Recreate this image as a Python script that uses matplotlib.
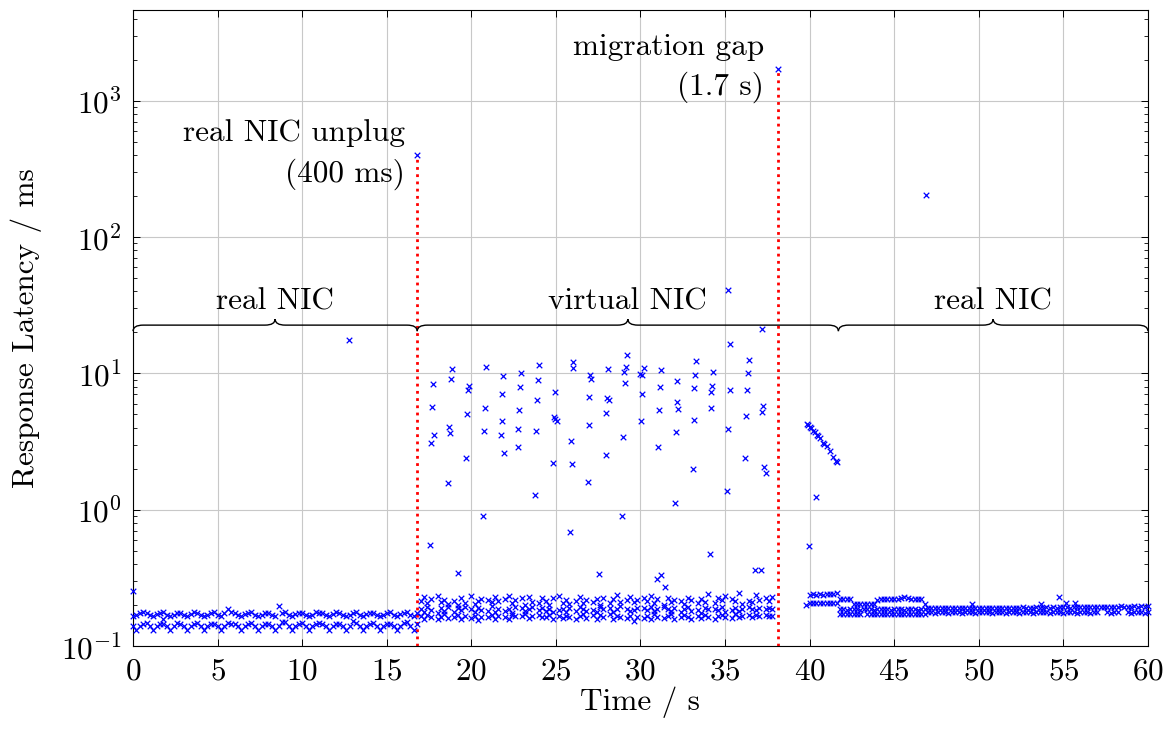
import numpy as np
import matplotlib
matplotlib.use("Agg")
import matplotlib.pyplot as plt
from matplotlib.path import Path
from matplotlib.patches import PathPatch
from matplotlib.transforms import blended_transform_factory
from matplotlib.ticker import LogLocator, NullFormatter, MultipleLocator

nan = np.nan

# ---- data -------------------------------------------------------------
# phase 1: real NIC, pings sampled every 0.2 s from t = 0.0
seg1_t0, seg1_dt = 0.0, 0.2
seg1_low = [
    0.139, 0.131, 0.140, 0.146, 0.147, 0.140, 0.132, 0.139, 0.146, 0.145,
    0.140, 0.131, 0.140, 0.147, 0.146, 0.139, 0.132, 0.140, 0.146, 0.147,
    0.140, 0.131, 0.139, 0.146, 0.145, 0.140, 0.132, 0.140, 0.147, 0.146,
    0.146, 0.140, 0.131, 0.139, 0.146, 0.147, 0.140, 0.132, 0.140, 0.146,
    0.145, 0.139, 0.131, 0.140, 0.151, 0.150, 0.140, 0.132, 0.139, 0.146,
    0.147, 0.140, 0.131, 0.140, 0.146, 0.147, 0.146, 0.140, 0.132, 0.139,
    0.146, 0.145, 0.140, 0.131, 0.140, 0.152, 0.147, 0.139, 0.132, 0.140,
    0.146, 0.147, 0.140, 0.131, 0.139, 0.146, 0.145, 0.140, 0.132, 0.140,
    0.147, 0.150, 0.139, 0.131, 0.145,
]
seg1_high = [
    0.165, 0.170, 0.176, 0.177, 0.175, 0.169, 0.165, 0.171, 0.176, 0.177,
    0.170, 0.165, 0.170, 0.176, 0.176, 0.170, 0.166, 0.171, 0.177, 0.175,
    0.170, 0.165, 0.170, 0.176, 0.177, 0.170, 0.165, 0.176, 0.188, 0.178,
    0.174, 0.170, 0.165, 0.171, 0.176, 0.177, 0.170, 0.165, 0.170, 0.176,
    0.176, 0.170, 0.165, 0.198, 0.176, 0.177, 0.170, 0.166, 0.171, 0.176,
    0.175, 0.170, 0.165, 0.170, 0.177, 0.176, 0.176, 0.170, 0.165, 0.171,
    0.177, 0.176, 0.170, 0.165, 0.170, 0.176, 0.177, 0.170, 0.166, 0.171,
    0.176, 0.175, 0.170, 0.165, 0.170, 0.176, 0.177, 0.170, 0.165, 0.171,
    0.176, 0.177, 0.170, 0.165, 0.176,
]

# phase 2: virtual NIC, sampled every 0.2 s from t = 17.0 (nan = slow ping)
seg2_t0, seg2_dt = 17.0, 0.2
seg2_top = [
    0.215, 0.228, 0.205, 0.221, nan, 0.232, 0.210, 0.219, 0.203, nan,
    0.212, 0.200, 0.224, 0.208, nan, 0.231, 0.204, 0.213, 0.222, nan,
    0.218, 0.209, 0.227, 0.214, nan, 0.220, 0.233, 0.207, 0.216, nan,
    0.224, 0.201, 0.229, 0.210, nan, 0.206, 0.223, 0.213, 0.200, 0.226,
    nan, 0.234, 0.208, 0.218, 0.203, nan, 0.212, 0.227, 0.205, 0.216,
    nan, 0.209, 0.220, 0.201, 0.225, nan, 0.207, 0.222, 0.236, 0.211,
    nan, 0.219, 0.228, 0.210, 0.217, nan, 0.224, 0.213, 0.231, 0.206,
    0.220, nan, 0.199, 0.226, 0.209, 0.218, nan, 0.212, 0.203, 0.223,
    0.216, nan, 0.207, 0.221, 0.211, 0.240, nan, 0.205, 0.225, 0.218,
    0.232, nan, 0.220, 0.213, 0.243, 0.203, nan, 0.215, 0.210, 0.236,
    0.219, nan, 0.224, 0.212, 0.229,
]
seg2_mid = [
    0.186, 0.179, 0.192, 0.183, nan, 0.176, 0.190, 0.181, 0.194, nan,
    0.178, 0.189, 0.183, 0.193, nan, 0.187, 0.177, 0.191, 0.184, nan,
    0.182, 0.195, 0.179, 0.186, nan, 0.181, 0.188, 0.176, 0.192, nan,
    0.189, 0.180, 0.187, 0.193, nan, 0.185, 0.191, 0.182, 0.186, 0.179,
    nan, 0.183, 0.188, 0.177, 0.190, nan, 0.181, 0.192, 0.187, 0.180,
    nan, 0.184, 0.178, 0.193, 0.186, nan, 0.190, 0.179, 0.187, 0.195,
    nan, 0.188, 0.180, 0.185, 0.191, nan, 0.189, 0.184, 0.192, 0.181,
    0.186, nan, 0.193, 0.188, 0.182, 0.190, nan, 0.178, 0.187, 0.194,
    0.181, nan, 0.184, 0.176, 0.191, 0.186, nan, 0.188, 0.183, 0.192,
    0.179, nan, 0.185, 0.190, 0.182, 0.188, nan, 0.193, 0.186, 0.184,
    0.189, nan, 0.187, 0.190, 0.188,
]
seg2_low = [
    0.166, 0.159, 0.170, 0.162, nan, 0.157, 0.164, 0.171, 0.160, nan,
    0.163, 0.169, 0.158, 0.165, nan, 0.161, 0.167, 0.156, 0.164, nan,
    0.162, 0.168, 0.159, 0.166, nan, 0.163, 0.157, 0.169, 0.165, nan,
    0.167, 0.172, 0.161, 0.166, nan, 0.170, 0.164, 0.162, 0.168, 0.159,
    nan, 0.165, 0.160, 0.167, 0.163, nan, 0.157, 0.166, 0.172, 0.161,
    nan, 0.168, 0.159, 0.170, 0.162, nan, 0.171, 0.158, 0.165, 0.163,
    nan, 0.160, 0.167, 0.153, 0.164, nan, 0.161, 0.166, 0.158, 0.172,
    0.163, nan, 0.160, 0.165, 0.171, 0.157, nan, 0.162, 0.169, 0.164,
    0.159, nan, 0.166, 0.161, 0.168, 0.163, nan, 0.158, 0.165, 0.169,
    0.162, nan, 0.160, 0.171, 0.164, 0.166, nan, 0.168, 0.163, 0.170,
    0.165, nan, 0.169, 0.166, 0.167,
]
# phase 2 outliers (time s, latency ms)
seg2_out_t = [
    17.57, 17.63, 17.67, 17.73, 17.79, 18.64, 18.68, 18.74, 18.78, 18.83,
    19.23, 19.68, 19.72, 19.78, 19.84, 20.69, 20.74, 20.80, 20.88, 21.73,
    21.79, 21.83, 21.89, 21.93, 22.74, 22.78, 22.81, 22.87, 22.93, 23.78,
    23.82, 23.86, 23.92, 24.00, 24.82, 24.86, 24.92, 24.96, 25.04, 25.81,
    25.87, 25.93, 25.99, 26.02, 26.87, 26.93, 26.97, 27.01, 27.07, 27.52,
    27.94, 27.97, 28.01, 28.07, 28.13, 28.92, 28.98, 29.02, 29.08, 29.12,
    29.18, 29.96, 30.02, 30.06, 30.10, 30.18, 30.95, 31.01, 31.07, 31.13,
    31.19, 31.24, 31.44, 32.03, 32.07, 32.13, 32.17, 32.23, 33.08, 33.14,
    33.17, 33.22, 33.27, 34.08, 34.14, 34.18, 34.22, 34.28, 35.12, 35.18,
    35.20, 35.28, 35.32, 36.19, 36.23, 36.29, 36.33, 36.39, 36.76, 37.13,
    37.19, 37.27, 37.20, 37.33, 37.39,
]
seg2_out_y = [
    0.553, 3.1, 5.7, 8.3, 3.5, 1.58, 4.05, 3.66, 9.1, 10.8,
    0.345, 2.4, 5.0, 7.55, 8.1, 0.9, 3.8, 5.6, 11.1, 3.5,
    4.5, 7.0, 9.6, 2.6, 3.9, 2.9, 5.4, 8.0, 10.0, 1.28,
    3.8, 6.4, 9.0, 11.5, 2.2, 4.8, 7.3, 4.6, 4.5, 0.68,
    3.2, 2.15, 12.0, 10.9, 1.6, 4.2, 6.7, 9.7, 9.15, 0.34,
    2.5, 5.1, 6.6, 10.8, 6.35, 0.9, 3.4, 10.3, 8.5, 11.1,
    13.6, 9.8, 4.45, 7.0, 9.7, 11.0, 0.31, 2.9, 5.4, 8.0,
    10.5, 0.33, 0.27, 1.12, 3.7, 6.2, 8.85, 5.5, 2.0, 4.55,
    7.85, 9.7, 12.3, 0.47, 7.35, 5.6, 8.1, 10.2, 1.36, 3.9,
    41.0, 7.5, 16.5, 2.4, 4.9, 7.5, 10.1, 12.5, 0.36, 0.36,
    5.2, 5.8, 21.0, 2.07, 1.87,
]

# phase 3: back on the real NIC
seg3a_t0, seg3a_dt = 40.0, 0.2
seg3a_high = [0.238, 0.239, 0.237, 0.239, 0.238, 0.239, 0.240, 0.242, 0.246]
seg3a_low = [0.207, 0.206, 0.206, 0.207, 0.205, 0.206, 0.207, 0.206, 0.208]
seg3_decay_t = [39.76, 39.85, 39.90, 39.95, 40.01, 40.10, 40.21, 40.30, 40.40,
                40.43, 40.50, 40.60, 40.80, 40.85, 41.00, 41.19, 41.39, 41.55, 41.59]
seg3_decay_y = [0.20, 4.26, 4.20, 0.54, 4.07, 3.95, 3.80, 3.70, 1.24,
                3.55, 3.45, 3.34, 3.10, 3.05, 2.92, 2.67, 2.44, 2.27, 2.23]

seg3b_t0, seg3b_dt = 41.8, 0.2
seg3b_top = [0.222, 0.221, 0.222, 0.220, 0.204, 0.203, 0.203, 0.204, 0.202, 0.203,
             0.204, 0.219, 0.220, 0.220, 0.221, 0.220, 0.221, 0.222, 0.225, 0.228,
             0.224, 0.221, 0.220, 0.221, 0.220, 0.204]
seg3b_mid = [0.186, 0.187, 0.185, 0.186, 0.187, 0.186, 0.185, 0.186, 0.187, 0.186,
             0.185, 0.186, 0.187, 0.186, 0.186, 0.185, 0.187, 0.186, 0.186, 0.185,
             0.186, 0.187, 0.186, 0.185, 0.186, 0.187]
seg3b_low = [0.172, 0.171, 0.172, 0.173, 0.172, 0.171, 0.172, nan, 0.173, 0.172,
             0.171, 0.172, 0.173, 0.172, 0.171, 0.172, 0.172, 0.173, 0.171, 0.172,
             0.172, 0.171, 0.173, 0.172, 0.172, 0.171]

seg3c_t0, seg3c_dt = 47.0, 0.2
seg3c_top = [
    0.190, 0.189, 0.191, 0.190, 0.189, 0.190, 0.191, 0.190, 0.189, 0.190,
    0.191, 0.190, 0.189, 0.190, 0.191, 0.190, 0.190, 0.189, 0.191, 0.190,
    0.190, 0.191, 0.190, 0.189, 0.191, 0.190, 0.191, 0.190, 0.192, 0.191,
    0.190, 0.191, 0.192, 0.191, 0.190, 0.192, 0.191, 0.192, 0.191, 0.192,
    0.193, 0.192, 0.191, 0.193, 0.192, 0.193, 0.192, 0.193, 0.194, 0.193,
    0.192, 0.193, 0.194, 0.193, 0.194, 0.193, 0.194, 0.195, 0.194, 0.193,
    0.194, 0.195, 0.194, 0.195, 0.194, 0.195,
]
seg3c_low = [
    0.177, 0.178, 0.176, 0.177, 0.178, 0.177, 0.176, 0.177, 0.178, 0.177,
    0.176, 0.177, 0.178, 0.177, 0.176, 0.177, 0.178, 0.177, 0.177, 0.176,
    0.177, 0.178, 0.177, 0.176, 0.177, 0.178, 0.177, 0.176, 0.177, 0.178,
    0.177, 0.176, 0.177, 0.178, 0.177, 0.177, 0.176, 0.177, 0.178, 0.177,
    0.176, 0.177, 0.178, 0.177, 0.176, 0.177, 0.178, 0.177, 0.176, 0.177,
    0.178, nan, nan, 0.177, 0.176, 0.177, 0.178, nan, nan, 0.177,
    0.176, 0.177, 0.178, 0.177, 0.176, 0.177,
]

# isolated points
other_t = [0.0, 1.79, 12.77, 46.87, 49.6, 53.7, 54.75, 55.14, 55.7]
other_y = [0.254, 0.159, 17.6, 204.0, 0.204, 0.202, 0.23, 0.206, 0.206]

# the two outages
gap_t = [16.8, 38.1]
gap_y = [400.0, 1700.0]

# ---- plot -------------------------------------------------------------
plt.rcParams["font.family"] = "cmr10"
plt.rcParams["mathtext.fontset"] = "cm"
plt.rcParams["axes.formatter.use_mathtext"] = True
plt.rcParams["font.size"] = 22.5

fig, ax = plt.subplots(figsize=(11.69, 7.31), dpi=100)
fig.subplots_adjust(left=0.1138, right=0.982, top=0.986, bottom=0.1163)


def sampled(t0, dt, vals):
    return t0 + dt * np.arange(len(vals)), np.asarray(vals, dtype=float)


series = [
    sampled(seg1_t0, seg1_dt, seg1_low), sampled(seg1_t0, seg1_dt, seg1_high),
    sampled(seg2_t0, seg2_dt, seg2_top), sampled(seg2_t0, seg2_dt, seg2_mid),
    sampled(seg2_t0, seg2_dt, seg2_low),
    sampled(seg3a_t0, seg3a_dt, seg3a_high), sampled(seg3a_t0, seg3a_dt, seg3a_low),
    sampled(seg3b_t0, seg3b_dt, seg3b_top), sampled(seg3b_t0, seg3b_dt, seg3b_mid),
    sampled(seg3b_t0, seg3b_dt, seg3b_low),
    sampled(seg3c_t0, seg3c_dt, seg3c_top), sampled(seg3c_t0, seg3c_dt, seg3c_low),
    (seg2_out_t, seg2_out_y), (seg3_decay_t, seg3_decay_y),
    (other_t, other_y), (gap_t, gap_y),
]

# red dotted markers for the outages
for t, y in zip(gap_t, gap_y):
    ax.plot([t, t], [0.1, y], color="red", lw=2, linestyle=(0, (1, 1.6)), zorder=2)

for t, y in series:
    ax.scatter(t, y, marker="x", s=16, linewidths=0.9, color="blue", zorder=3,
               clip_on=False)

ax.set_yscale("log")
ax.set_xlim(0, 60)
ax.set_ylim(0.1, 4600)
ax.xaxis.set_major_locator(MultipleLocator(5))
ax.yaxis.set_major_locator(LogLocator(base=10, numticks=10))
ax.yaxis.set_minor_locator(LogLocator(base=10, subs=np.arange(2, 10), numticks=20))
ax.yaxis.set_minor_formatter(NullFormatter())
ax.grid(True, which="major", color="#c8c8c8", lw=0.8)
ax.set_axisbelow(True)
ax.tick_params(which="both", direction="in", top=True, right=True)
ax.tick_params(which="major", length=5, width=0.7, pad=8)
ax.tick_params(which="minor", length=3, width=0.6)
for sp in ax.spines.values():
    sp.set_linewidth(0.8)

ax.set_xlabel("Time / s", labelpad=1)
ax.set_ylabel("Response Latency / ms", labelpad=14)

# braces showing which NIC is in use
trans = blended_transform_factory(ax.transData, ax.transAxes)


def brace(x0, x1, label, y=0.5047, h=0.0095, r=0.6):
    xm = (x0 + x1) / 2
    verts = [(x0, y - h), (x0, y), (x0 + r, y), (xm - r, y),
             (xm, y), (xm, y + h), (xm, y), (xm + r, y),
             (x1 - r, y), (x1, y), (x1, y - h)]
    codes = [Path.MOVETO, Path.CURVE3, Path.CURVE3, Path.LINETO,
             Path.CURVE3, Path.CURVE3, Path.CURVE3, Path.CURVE3,
             Path.LINETO, Path.CURVE3, Path.CURVE3]
    ax.add_patch(PathPatch(Path(verts, codes), transform=trans, fill=False,
                           lw=1.0, color="black", clip_on=False, zorder=4))
    ax.text(xm, y + 0.024, label, transform=trans, ha="center", va="baseline")


brace(0, 16.8, "real NIC")
brace(16.8, 41.7, "virtual NIC")
brace(41.7, 60, "real NIC")

ax.text(16.08, 502, "real NIC unplug", ha="right", va="baseline")
ax.text(16.08, 256, "(400 ms)", ha="right", va="baseline")
ax.text(37.29, 2178, "migration gap", ha="right", va="baseline")
ax.text(37.29, 1107, "(1.7 s)", ha="right", va="baseline")

fig.savefig("out.png", dpi=100)
